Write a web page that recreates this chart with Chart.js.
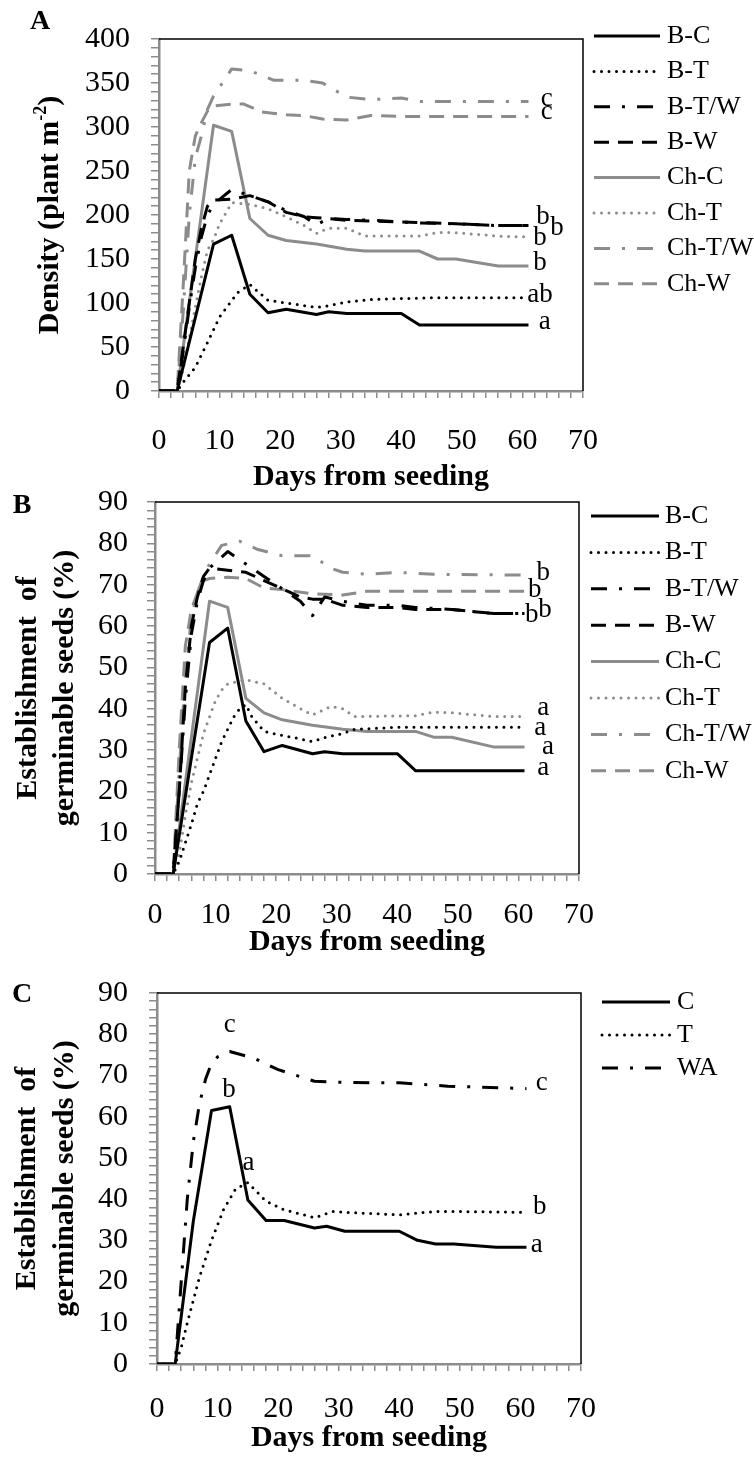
<!DOCTYPE html>
<html><head><meta charset="utf-8">
<script src="https://cdn.jsdelivr.net/npm/chart.js@4.4.0/dist/chart.umd.min.js"></script>
<style>
html,body{margin:0;padding:0;background:#fff;}
body{width:754px;height:1466px;position:relative;overflow:hidden;}
canvas{position:absolute;left:0;top:0;}
</style></head><body>
<canvas id="cA" width="754" height="1466"></canvas>
<canvas id="cB" width="754" height="1466"></canvas>
<canvas id="cC" width="754" height="1466"></canvas>
<script>
// ---------- tick labels ----------
const xTickLabels = [0,10,20,30,40,50,60,70];
const yTickLabelsA = [0,50,100,150,200,250,300,350,400];
const yTickLabelsB = [0,10,20,30,40,50,60,70,80,90];

// ---------- categories ----------
const seriesA = ['B-C','B-T','B-T/W','B-W','Ch-C','Ch-T','Ch-T/W','Ch-W'];
const seriesC = ['C','T','WA'];

// ---------- Panel A: density (plant m-2), [day, value] ----------
const A_BC  = [[0,0],[3,0],[9,167],[12,177],[15,110],[18,89],[21,93],[26,87],[28,90],[31,88],[40,88],[43,75],[61,75]];
const A_BT  = [[0,0],[3,0],[4,10],[6,27],[8,55],[10,84],[13,112],[15,121],[18,103],[21,100],[26,95],[28,97],[31,101],[35,104],[40,105],[46,106],[61,106]];
const A_BTW = [[0,0],[3,0],[4,45],[5,95],[6,140],[7,175],[8,200],[9,212],[12,229],[15,222],[18,215],[21,205],[24,198],[26,189],[28,196],[31,195],[35,194],[43,191],[49,190],[56,188],[61,188]];
const A_BW  = [[0,0],[3,0],[4,50],[5,100],[6,150],[7,185],[8,210],[9,217],[12,218],[15,222],[18,215],[21,203],[24,198],[26,197],[31,194],[40,192],[49,190],[56,188],[61,188]];
const A_ChC = [[0,0],[3,0],[9,302],[12,295],[15,196],[18,177],[21,171],[26,167],[31,161],[34,159],[43,159],[46,150],[49,150],[56,142],[61,142]];
const A_ChT = [[0,0],[3,0],[4,25],[5,60],[6,95],[7,130],[8,160],[9,172],[10,190],[12,214],[15,212],[18,207],[21,198],[24,188],[26,179],[28,185],[31,185],[34,176],[43,176],[46,180],[49,180],[56,176],[61,175]];
const A_ChTW= [[0,0],[3,0],[4,90],[5,200],[6,265],[7,290],[8,320],[9,335],[12,366],[15,364],[19,353],[24,353],[27,350],[31,334],[35,331],[40,333],[43,329],[61,329]];
const A_ChW = [[0,0],[3,0],[4,120],[5,250],[6,290],[7,305],[8,318],[9,324],[12,326],[14,326],[17,317],[21,314],[24,313],[27,309],[31,308],[35,313],[40,312],[61,312]];

// ---------- Panel B: establishment (%), [day, value] ----------
const B_BC  = [[0,0],[3,0],[9,56],[12,59.5],[15,37],[18,29.6],[21,31.1],[26,29.1],[28,29.6],[31,29.1],[40,29.1],[43,25],[61,25]];
const B_BT  = [[0,0],[3,0],[4,3],[5,7.5],[6,12],[7,17],[8,20],[9,24],[10,28],[11,32],[12,35],[13,38],[14,40],[15,41],[16,38],[18,34.5],[21,33.5],[23,33],[26,32],[28,33],[31,34],[33,35],[40,35.5],[61,35.5]];
const B_BTW = [[0,0],[3,0],[4,20],[5,42],[6,58],[7,66],[8,71],[9,74],[12,78],[15,75],[18,72],[21,69],[24,66],[26,62.5],[28,67],[31,66],[35,65],[40,65],[43,64.5],[49,64],[56,63],[61,63]];
const B_BW  = [[0,0],[3,0],[4,20],[5,45],[6,60],[7,67],[8,72],[9,74],[12,73.5],[15,73],[18,71],[21,69],[24,67],[26,66.5],[28,66.5],[31,65],[35,64.5],[40,64.5],[43,64],[49,64],[56,63],[61,63]];
const B_ChC = [[0,0],[3,0],[9,66],[12,64.5],[15,42.5],[18,39],[21,37.3],[26,36],[31,35],[35,34.5],[43,34.5],[46,33.1],[49,33.1],[56,30.7],[61,30.7]];
const B_ChT = [[0,0],[3,0],[4,5],[5,14],[6,22],[7,28],[8,34],[9,38],[10,42],[11,44.5],[12,46],[15,47],[18,46],[21,42.5],[24,40],[26,38.5],[29,40.5],[31,40],[33,38.1],[43,38.3],[46,39.2],[49,39],[56,38.1],[61,38.1]];
const B_ChTW= [[0,0],[3,0],[4,25],[5,48],[6,62],[7,68],[8,72],[9,75],[11,79.5],[14,80.5],[17,78.5],[21,77],[26,77],[29,74],[31,73],[35,72.5],[40,73],[46,72.5],[61,72.3]];
const B_ChW = [[0,0],[3,0],[4,30],[5,55],[6,64],[7,68],[8,71],[9,71.5],[12,71.8],[15,71.5],[18,69.2],[21,68.8],[26,67.8],[31,67.5],[35,68.4],[61,68.4]];

// ---------- Panel C: establishment (%), [day, value] ----------
const C_C  = [[0,0],[3,0],[6,34.7],[9,61.5],[12,62.4],[15,39.8],[18,34.8],[21,34.8],[26,33],[28,33.4],[31,32.2],[40,32.2],[43,30],[46,29.1],[49,29.1],[56,28.3],[61,28.3]];
const C_T  = [[0,0],[3,0],[4,4],[5,10],[7,21],[9,30],[11,37.5],[13,42.5],[15,44],[18,39.5],[21,37.4],[26,35.5],[29,37],[31,36.8],[40,36.2],[46,37],[49,37],[61,36.8]];
const C_WA = [[0,0],[3,0],[4,20],[5,40],[6,54],[7,63],[8,69],[9,73],[10,74.5],[12,75.8],[16,74.2],[20,71.4],[23,70],[26,68.6],[31,68.3],[40,68.2],[48,67.4],[61,66.8]];

// ---------- significance letters [text, day, value] ----------
const sigA = [['c',64,332],['c',64,317],['b',63.4,198],['b',65.7,185],['b',62.9,174.5],['b',62.9,145.6],['ab',62.9,109.5],['a',63.7,78.8]];
const sigB = [['b',64.1,72.8],['b',62.7,68.8],['b',62.2,62.7],['b',64.4,64],['a',64.1,40.1],['a',63.6,35.3],['a',64.9,30.8],['a',64.1,25.6]];
const sigC = [['c',12,82.2],['b',11.9,66.5],['a',15.1,48.7],['c',63.5,68.1],['b',63.2,38.2],['a',62.7,28.9]];

// ---------- styles ----------
const FONT = '"Liberation Serif", "Times New Roman", serif';
const GRAY = '#8c8c8c';
const BLACK = '#000000';
const STY = {
  solid:   {borderDash: [], borderCapStyle: 'butt'},
  dot:     {borderDash: [0, 7.5], borderCapStyle: 'round'},
  dashdot: {borderDash: [16, 12, 3, 12], borderCapStyle: 'butt'},
  dash:    {borderDash: [15, 9], borderCapStyle: 'butt'}
};
function ds(label, pts, color, sty) {
  return Object.assign({
    label, data: pts.map(p => ({x: p[0], y: p[1]})),
    borderColor: color, backgroundColor: color, borderWidth: 3,
    pointRadius: 0, tension: 0, fill: false, borderJoinStyle: 'round'
  }, STY[sty]);
}

const decor = {
  id: 'decor',
  afterDraw(chart, args, o) {
    const ctx = chart.ctx, a = chart.chartArea, xs = chart.scales.x, ys = chart.scales.y;
    ctx.save();
    ctx.setLineDash([]);
    ctx.strokeStyle = '#000'; ctx.lineWidth = 1.5;
    ctx.beginPath(); ctx.moveTo(a.left, a.top); ctx.lineTo(a.right, a.top); ctx.lineTo(a.right, a.bottom); ctx.stroke();
    ctx.fillStyle = '#000';
    ctx.textAlign = 'center'; ctx.textBaseline = 'middle';
    ctx.font = 'bold 28px ' + FONT;
    ctx.fillText(o.letter, o.letterX, o.letterY);
    ctx.font = 'bold 30px ' + FONT;
    ctx.fillText('Days from seeding', (a.left + a.right) / 2, o.xTitleY);
    // y title
    const cy = (a.top + a.bottom) / 2;
    o.yTitle.forEach(line => {
      ctx.save();
      ctx.translate(line.x, cy);
      ctx.rotate(-Math.PI / 2);
      if (line.sup) {
        ctx.font = 'bold 30px ' + FONT;
        const w1 = ctx.measureText(line.text).width, w3 = ctx.measureText(line.after).width;
        ctx.font = 'bold 18px ' + FONT;
        const w2 = ctx.measureText(line.sup).width;
        let x0 = -(w1 + w2 + w3) / 2;
        ctx.textAlign = 'left';
        ctx.font = 'bold 30px ' + FONT;
        ctx.fillText(line.text, x0, 0);
        ctx.font = 'bold 18px ' + FONT;
        ctx.fillText(line.sup, x0 + w1, -9);
        ctx.font = 'bold 30px ' + FONT;
        ctx.fillText(line.after, x0 + w1 + w2, 0);
      } else {
        ctx.font = 'bold 30px ' + FONT;
        ctx.fillText(line.text, 0, 0);
      }
      ctx.restore();
    });
    // significance letters
    ctx.font = '27px ' + FONT;
    ctx.textAlign = 'center'; ctx.textBaseline = 'middle';
    o.sig.forEach(s => ctx.fillText(s[0], xs.getPixelForValue(s[1]), ys.getPixelForValue(s[2])));
    // legend
    chart.data.datasets.forEach((d, i) => {
      const y = o.legY0 + i * o.legDy;
      ctx.strokeStyle = d.borderColor; ctx.lineWidth = d.borderWidth;
      ctx.setLineDash(d.borderDash || []); ctx.lineCap = d.borderCapStyle || 'butt';
      ctx.beginPath(); ctx.moveTo(o.legX1, y); ctx.lineTo(o.legX2, y); ctx.stroke();
      ctx.setLineDash([]);
      ctx.font = '26px ' + FONT; ctx.textAlign = 'left'; ctx.fillStyle = '#000';
      ctx.fillText(d.label, o.legTX, y);
    });
    ctx.restore();
  }
};

function makeChart(id, datasets, box, yMax, yStep, yLabels, yPad, xPad, deco) {
  return new Chart(document.getElementById(id), {
    type: 'line',
    data: {datasets},
    plugins: [decor],
    options: {
      responsive: false, maintainAspectRatio: false, animation: false, devicePixelRatio: 1,
      layout: {padding: {left: 0, top: box.top, right: 754 - box.right, bottom: 0}},
      plugins: {legend: {display: false}, tooltip: {enabled: false}, decor: deco},
      scales: {
        x: {
          type: 'linear', min: 0, max: 70,
          afterBuildTicks: s => { const t = []; for (let v = 0; v <= 70; v += 2) t.push({value: v}); s.ticks = t; },
          ticks: {autoSkip: false, maxRotation: 0, padding: xPad, color: '#000',
                  font: {family: FONT, size: 30},
                  callback: v => xTickLabels.includes(v) ? String(v) : ''},
          grid: {drawOnChartArea: false, drawTicks: true, tickLength: 7, color: GRAY, lineWidth: 1.5},
          border: {display: true, color: GRAY, width: 2.5},
          afterFit: s => { s.height = 1466 - box.bottom; }
        },
        y: {
          type: 'linear', min: 0, max: yMax,
          afterBuildTicks: s => { const t = []; for (let v = 0; v <= yMax + 1e-9; v += yStep) t.push({value: Math.round(v * 1000) / 1000}); s.ticks = t; },
          ticks: {autoSkip: false, padding: yPad, color: '#000',
                  font: {family: FONT, size: 30},
                  callback: v => yLabels.includes(v) ? String(v) : ''},
          grid: {drawOnChartArea: false, drawTicks: true, tickLength: 8, color: GRAY, lineWidth: 1.5},
          border: {display: true, color: GRAY, width: 2.5},
          afterFit: s => { s.width = box.left; }
        }
      }
    }
  });
}

const colA = [BLACK, BLACK, BLACK, BLACK, GRAY, GRAY, GRAY, GRAY];
const styA = ['solid', 'dot', 'dashdot', 'dash', 'solid', 'dot', 'dashdot', 'dash'];
const dataA = [A_BC, A_BT, A_BTW, A_BW, A_ChC, A_ChT, A_ChTW, A_ChW];
const dataB = [B_BC, B_BT, B_BTW, B_BW, B_ChC, B_ChT, B_ChTW, B_ChW];
const dataC = [C_C, C_T, C_WA];
const styC = ['solid', 'dot', 'dashdot'];

makeChart('cA', seriesA.map((s, i) => ds(s, dataA[i], colA[i], styA[i])),
  {left: 159, top: 22, right: 583, bottom: 391}, 400, 10, yTickLabelsA, 21, 25,
  {letter: 'A', letterX: 40, letterY: 22, xTitleY: 477,
   yTitle: [{x: 50, text: 'Density (plant m', sup: '-2', after: ')'}],
   sig: sigA, legY0: 36, legDy: 35.4, legX1: 594, legX2: 660, legTX: 667});

makeChart('cB', seriesA.map((s, i) => ds(s, dataB[i], colA[i], styA[i])),
  {left: 155, top: 502, right: 579, bottom: 874}, 90, 2, yTickLabelsB, 19, 16,
  {letter: 'B', letterX: 22, letterY: 506, xTitleY: 942,
   yTitle: [{x: 28, text: 'Establishment  of'}, {x: 65, text: 'germinable seeds (%)'}],
   sig: sigB, legY0: 516, legDy: 36.4, legX1: 591, legX2: 659, legTX: 665});

makeChart('cC', seriesC.map((s, i) => ds(s, dataC[i], BLACK, styC[i])),
  {left: 157, top: 993, right: 581, bottom: 1364}, 90, 2, yTickLabelsB, 21, 20,
  {letter: 'C', letterX: 22, letterY: 995, xTitleY: 1438,
   yTitle: [{x: 27, text: 'Establishment  of'}, {x: 65, text: 'germinable seeds (%)'}],
   sig: sigC, legY0: 1002, legDy: 33, legX1: 602, legX2: 670, legTX: 677});
</script>
</body></html>
